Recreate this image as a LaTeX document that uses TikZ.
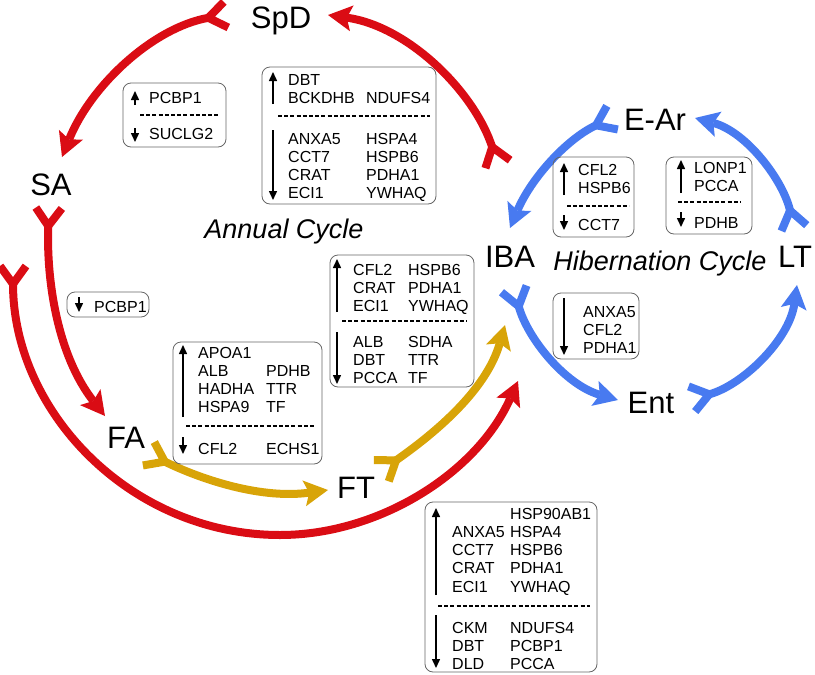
\documentclass[tikz,border=0pt]{standalone}
\usepackage{fontspec}
\setmainfont{Liberation Sans}
\usetikzlibrary{arrows.meta}
\definecolor{annualred}{RGB}{218,12,20}
\definecolor{hibblue}{RGB}{72,122,240}
\definecolor{transgold}{RGB}{216,164,8}
\tikzset{
  cyc/.style={line width=8pt, looseness=0.9,
    {Straight Barb[reversed,length=18pt,width=26pt]}-{Stealth[length=24pt,width=26pt,inset=5pt,line width=0pt]}},
  annual/.style={cyc, draw=annualred},
  hib/.style={cyc, draw=hibblue},
  trans/.style={cyc, draw=transgold},
  stage/.style={font=\fontsize{31}{31}\selectfont, inner sep=0pt, anchor=base},
  cyclename/.style={font=\fontsize{27}{27}\selectfont\itshape, inner sep=0pt, anchor=base},
  genebox/.style={draw=black!60, line width=0.8pt, rounded corners=8pt},
  genes/.style={font=\fontsize{16}{18.3}\selectfont, inner sep=0pt, anchor=base west},
  updown/.style={line width=1.5pt, -{Triangle[length=9pt,width=8pt]}},
  sepline/.style={line width=1.3pt, dash pattern=on 4pt off 2.2pt},
}
\newcommand{\glist}[2]{\begin{tabular}[t]{@{}p{#1}@{}l@{}}#2\end{tabular}}
\newcommand{\gcol}[1]{\begin{tabular}[t]{@{}l@{}}#1\end{tabular}}
\begin{document}
\begin{tikzpicture}[x=1pt,y=-1pt]
\useasboundingbox (0,0) rectangle (815,675);

% Stades
\node[stage] (spd) at (281,28) {SpD};
\node[stage] (sa) at (51,195) {SA};
\node[stage] (fa) at (126,448) {FA};
\node[stage] (ft) at (356,498) {FT};
\node[stage] (iba) at (510,267) {IBA};
\node[stage] (lt) at (795,267) {LT};
\node[stage] (ear) at (655,130) {E-Ar};
\node[stage] (ent) at (651,413) {Ent};
\node[cyclename] (annual) at (284,238) {Annual Cycle};
\node[cyclename] (hibern) at (660,270) {Hibernation Cycle};

% Extremites des fleches
\coordinate (ibaOut) at (499,168);
\coordinate (spdIn) at (328,15);
\coordinate (spdOut) at (230,14);
\coordinate (saIn) at (62,157);
\coordinate (saOut) at (49,204);
\coordinate (faIn) at (105,416);
\coordinate (outerOut) at (13,262);
\coordinate (outerLow) at (280,535);
\coordinate (ibaInRed) at (518,381);
\coordinate (faOut) at (145,452);
\coordinate (ftIn) at (328,490);
\coordinate (ftOut) at (378,473);
\coordinate (ibaInGold) at (505,325);
\coordinate (earOut) at (616,116);
\coordinate (ibaIn) at (510,228);
\coordinate (ibaOutBlue) at (513,285);
\coordinate (entIn) at (618,400);
\coordinate (entOut) at (688,400);
\coordinate (ltIn) at (797,285);
\coordinate (ltOut) at (795,232);
\coordinate (earIn) at (695,118);

% Cycle annuel
\draw[annual] (ibaOut) to[out=108,in=-8] (spdIn);
\draw[annual] (spdOut) to[out=190,in=68] (saIn);
\draw[annual] (saOut) to[out=268,in=128] (faIn);
\draw[annual] (outerOut) to[out=270,in=180,looseness=1] (outerLow) to[out=0,in=-114] (ibaInRed);
\draw[trans] (faOut) to[out=-26,in=-172] (ftIn);
\draw[trans] (ftOut) to[out=35,in=-106] (ibaInGold);

% Cycle d'hibernation
\draw[hib] (earOut) to[out=205,in=67] (ibaIn);
\draw[hib] (ibaOutBlue) to[out=285,in=164] (entIn);
\draw[hib] (entOut) to[out=15,in=-98] (ltIn);
\draw[hib] (ltOut) to[out=103,in=-15] (earIn);

% Boites
\draw[genebox] (123,83) rectangle (226,147);
\draw[updown] (135,105) -- (135,91);
\draw[sepline] (140,115) -- (219,115);
\draw[updown] (135,128) -- (135,142);
\node[genes] (b1up) at (149,103) {PCBP1};
\node[genes] (b1dn) at (149,139) {SUCLG2};

\draw[genebox] (262,67) rectangle (436,204);
\draw[updown] (273,104) -- (273,72);
\draw[sepline] (278,116) -- (430,116);
\draw[updown] (273,130) -- (273,200);
\node[genes] (b2up) at (288,85) {\glist{78pt}{DBT & \\ BCKDHB & NDUFS4}};
\node[genes] (b2dn) at (288,144) {\glist{78pt}{ANXA5 & HSPA4\\ CCT7 & HSPB6\\ CRAT & PDHA1\\ ECI1 & YWHAQ}};

\draw[genebox] (330,255) rectangle (474,387);
\draw[updown] (337,312) -- (337,259);
\draw[sepline] (342,321) -- (467,321);
\draw[updown] (337,332) -- (337,384);
\node[genes] (b3up) at (353,275) {\glist{55pt}{CFL2 & HSPB6\\ CRAT & PDHA1\\ ECI1 & YWHAQ}};
\node[genes] (b3dn) at (353,347) {\glist{55pt}{ALB & SDHA\\ DBT & TTR\\ PCCA & TF}};

\draw[genebox] (553,157) rectangle (634,237);
\draw[updown] (564,195) -- (564,163);
\draw[sepline] (567,206) -- (629,206);
\draw[updown] (564,215) -- (564,230);
\node[genes] (b4up) at (578,175) {\gcol{CFL2\\ HSPB6}};
\node[genes] (b4dn) at (578,230) {CCT7};

\draw[genebox] (666,157) rectangle (752,234);
\draw[updown] (681,193) -- (681,160);
\draw[sepline] (678,202) -- (741,202);
\draw[updown] (681,212) -- (681,227);
\node[genes] (b5up) at (694,173) {\gcol{LONP1\\ PCCA}};
\node[genes] (b5dn) at (694,228) {PDHB};

\draw[genebox] (553,293) rectangle (639,359);
\draw[updown] (564,298) -- (564,355);
\node[genes] (b6dn) at (583,317) {\gcol{ANXA5\\ CFL2\\ PDHA1}};

\draw[genebox] (67,292) rectangle (149,317);
\draw[updown] (79,297) -- (79,312);
\node[genes] (b7dn) at (94,312) {PCBP1};

\draw[genebox] (173,342) rectangle (322,464);
\draw[updown] (183,417) -- (183,345);
\draw[sepline] (186,426) -- (314,426);
\draw[updown] (183,437) -- (183,454);
\node[genes] (b8up) at (198,358) {\glist{68pt}{APOA1 & \\ ALB & PDHB\\ HADHA & TTR\\ HSPA9 & TF}};
\node[genes] (b8dn) at (198,454) {\glist{68pt}{CFL2 & ECHS1}};

\draw[genebox] (425,502) rectangle (597,672);
\draw[updown] (436,595) -- (436,508);
\draw[sepline] (438,606) -- (590,606);
\draw[updown] (436,615) -- (436,668);
\node[genes] (b9up) at (452,519) {\glist{58pt}{ & HSP90AB1\\ ANXA5 & HSPA4\\ CCT7 & HSPB6\\ CRAT & PDHA1\\ ECI1 & YWHAQ}};
\node[genes] (b9dn) at (452,633) {\glist{58pt}{CKM & NDUFS4\\ DBT & PCBP1\\ DLD & PCCA}};

\end{tikzpicture}
\end{document}
